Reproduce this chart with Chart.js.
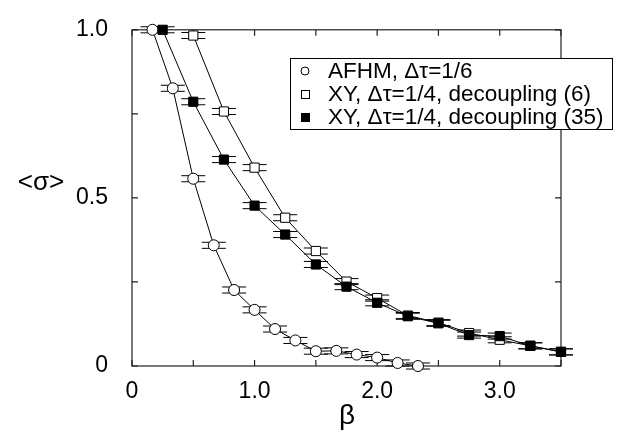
<!DOCTYPE html>
<html>
<head>
<meta charset="utf-8">
<script src="https://cdn.jsdelivr.net/npm/chart.js@4"></script>
<style>
  body { margin: 0; background: #fff; }
  #wrap { width: 623px; height: 439px; }
</style>
</head>
<body>
<div id="wrap"><canvas id="chart" width="623" height="439"></canvas></div>
<script>
// AFHM, dtau = 1/6
const betaAfhm = [0.167, 0.333, 0.5, 0.667, 0.833, 1.0, 1.167, 1.333, 1.5, 1.667, 1.833, 2.0, 2.167, 2.333];
const sigmaAfhm = [1.0, 0.826, 0.557, 0.359, 0.226, 0.167, 0.110, 0.076, 0.044, 0.045, 0.034, 0.025, 0.009, 0.0];

// XY, dtau = 1/4, decoupling (6)
const betaXY6 = [0.5, 0.75, 1.0, 1.25, 1.5, 1.75, 2.0, 2.25, 2.5, 2.75, 3.0, 3.25, 3.5];
const sigmaXY6 = [0.983, 0.757, 0.590, 0.441, 0.342, 0.251, 0.202, 0.150, 0.129, 0.098, 0.078, 0.060, 0.042];

// XY, dtau = 1/4, decoupling (35)
const betaXY35 = [0.25, 0.5, 0.75, 1.0, 1.25, 1.5, 1.75, 2.0, 2.25, 2.5, 2.75, 3.0, 3.25, 3.5];
const sigmaXY35 = [1.0, 0.786, 0.614, 0.477, 0.391, 0.302, 0.236, 0.188, 0.148, 0.127, 0.092, 0.089, 0.060, 0.042];

// error bar half size (same for every point)
const sigmaErr = 0.009;

const legendLabels = ['AFHM, \u0394\u03c4=1/6', 'XY, \u0394\u03c4=1/4, decoupling (6)', 'XY, \u0394\u03c4=1/4, decoupling (35)'];

const FONT = "'Liberation Sans', Arial, sans-serif";

function toPoints(xs, ys) {
    return xs.map((x, i) => ({ x: x, y: ys[i] }));
}

// frame, inward ticks and error caps, drawn under the markers
const framePlugin = {
    id: 'frame',
    beforeDatasetsDraw(chart) {
        const ctx = chart.ctx;
        const a = chart.chartArea;
        const xs = chart.scales.x, ys = chart.scales.y;
        ctx.save();
        ctx.strokeStyle = '#222';
        ctx.lineWidth = 1.2;
        ctx.strokeRect(a.left, a.top, a.right - a.left, a.bottom - a.top);
        ctx.beginPath();
        xs.ticks.forEach(t => {
            const px = xs.getPixelForValue(t.value);
            ctx.moveTo(px, a.bottom); ctx.lineTo(px, a.bottom - 6);
            ctx.moveTo(px, a.top); ctx.lineTo(px, a.top + 6);
        });
        ys.ticks.forEach(t => {
            const py = ys.getPixelForValue(t.value);
            ctx.moveTo(a.left, py); ctx.lineTo(a.left + 6, py);
            ctx.moveTo(a.right, py); ctx.lineTo(a.right - 6, py);
        });
        ctx.stroke();

        // error bar caps
        ctx.strokeStyle = '#000';
        ctx.lineWidth = 1;
        ctx.beginPath();
        chart.data.datasets.forEach((ds, di) => {
            const meta = chart.getDatasetMeta(di);
            meta.data.forEach((pt, i) => {
                const v = ds.data[i].y;
                const yTop = ys.getPixelForValue(v + sigmaErr);
                const yBot = ys.getPixelForValue(v - sigmaErr);
                ctx.moveTo(pt.x - 12, yTop); ctx.lineTo(pt.x + 12, yTop);
                ctx.moveTo(pt.x - 12, yBot); ctx.lineTo(pt.x + 12, yBot);
            });
        });
        ctx.stroke();
        ctx.restore();
    },
    afterDraw(chart) {
        const ctx = chart.ctx;
        ctx.save();
        ctx.fillStyle = '#000';
        ctx.textAlign = 'center';
        ctx.textBaseline = 'middle';
        // axis titles
        ctx.font = '26px ' + FONT;
        ctx.fillText('<\u03c3>', 41, 183);
        ctx.font = '28px ' + FONT;
        ctx.fillText('\u03b2', 347, 416);

        // legend box
        const bx = 290, by = 58, bw = 322, bh = 71;
        ctx.fillStyle = '#fff';
        ctx.fillRect(bx, by, bw, bh);
        ctx.strokeStyle = '#000';
        ctx.lineWidth = 1;
        ctx.strokeRect(bx + 0.5, by + 0.5, bw, bh);
        const rows = [71, 94, 117];
        ctx.font = '22.5px ' + FONT;
        ctx.textAlign = 'left';
        rows.forEach((ry, i) => {
            ctx.lineWidth = 1;
            ctx.strokeStyle = '#000';
            if (i === 0) {
                ctx.beginPath();
                ctx.arc(305, ry, 4, 0, Math.PI * 2);
                ctx.stroke();
            } else if (i === 1) {
                ctx.strokeRect(301.5, ry - 3.5, 8, 8);
            } else {
                ctx.fillStyle = '#000';
                ctx.fillRect(301, ry - 4, 9, 9);
            }
            ctx.fillStyle = '#000';
            ctx.fillText(legendLabels[i], 328, ry + 1);
        });
        ctx.restore();
    }
};

new Chart(document.getElementById('chart'), {
    type: 'scatter',
    data: {
        datasets: [
            {
                label: legendLabels[0],
                data: toPoints(betaAfhm, sigmaAfhm),
                showLine: true,
                borderColor: '#000',
                borderWidth: 1,
                pointStyle: 'circle',
                pointRadius: 5.5,
                pointBackgroundColor: '#fff',
                pointBorderColor: '#000',
                pointBorderWidth: 1,
                clip: false,
                order: 2
            },
            {
                label: legendLabels[1],
                data: toPoints(betaXY6, sigmaXY6),
                showLine: true,
                borderColor: '#000',
                borderWidth: 1,
                pointStyle: 'rect',
                pointRadius: 6.5,
                pointBackgroundColor: '#fff',
                pointBorderColor: '#000',
                pointBorderWidth: 1,
                clip: false,
                order: 1
            },
            {
                label: legendLabels[2],
                data: toPoints(betaXY35, sigmaXY35),
                showLine: true,
                borderColor: '#000',
                borderWidth: 1,
                pointStyle: 'rect',
                pointRadius: 6.5,
                pointBackgroundColor: '#000',
                pointBorderColor: '#000',
                pointBorderWidth: 1,
                clip: false,
                order: 0
            }
        ]
    },
    options: {
        responsive: false,
        animation: false,
        layout: { padding: { top: 13, right: 62, left: 0, bottom: 0 } },
        plugins: { legend: { display: false }, tooltip: { enabled: false } },
        scales: {
            x: {
                type: 'linear',
                min: 0, max: 3.5,
                grid: { display: false },
                border: { display: false },
                ticks: {
                    stepSize: 0.5,
                    padding: 4,
                    color: '#000',
                    font: { size: 23, family: FONT },
                    maxRotation: 0,
                    autoSkip: false,
                    callback: v => (v === 0 ? '0' : (Number.isInteger(v) ? v.toFixed(1) : ''))
                },
                afterFit: s => { s.height = 73; }
            },
            y: {
                type: 'linear',
                min: 0, max: 1,
                grid: { display: false },
                border: { display: false },
                ticks: {
                    stepSize: 0.25,
                    padding: 16,
                    color: '#000',
                    font: { size: 23, family: FONT },
                    autoSkip: false,
                    callback: v => (v === 0 ? '0' : (Math.abs(v * 2 - Math.round(v * 2)) < 1e-9 ? v.toFixed(1) : ''))
                },
                afterFit: s => { s.width = 132; }
            }
        }
    },
    plugins: [framePlugin]
});
</script>
</body>
</html>
